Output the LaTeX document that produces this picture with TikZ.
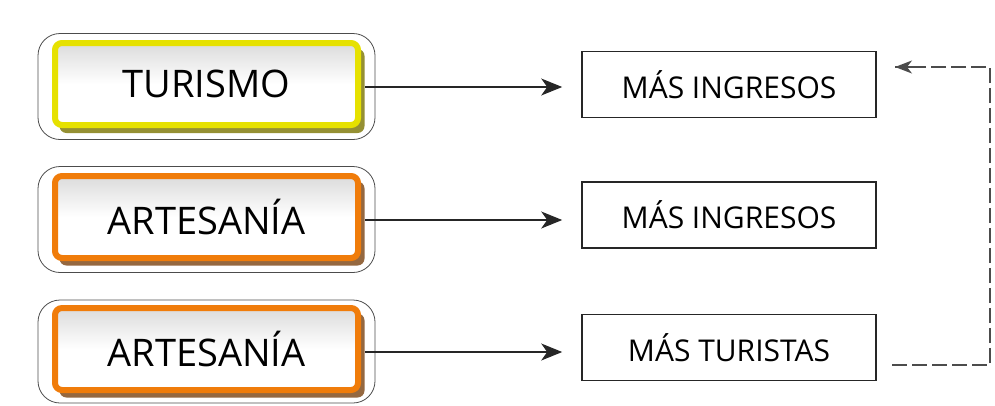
\documentclass[tikz,border=0pt]{standalone}
\usepackage{fontspec}
\setmainfont{Open Sans}
\usetikzlibrary{arrows.meta,calc}
\definecolor{ylw}{HTML}{E6E100}
\definecolor{ylwsh}{HTML}{7A7400}
\definecolor{org}{HTML}{F07C0A}
\definecolor{orgsh}{HTML}{7A4210}
\tikzset{
  outerbox/.style={draw=black!70, line width=0.8pt, rounded corners=22pt, minimum width=337pt, minimum height=106pt},
  innerbox/.style={draw=#1, line width=6pt, rounded corners=7pt, minimum width=303pt, minimum height=82pt,
     top color=black!14, bottom color=white, middle color=white, font=\fontsize{38}{40}\selectfont},
  shadowbox/.style={fill=#1, rounded corners=7pt, minimum width=305pt, minimum height=84pt, opacity=0.8},
  resbox/.style={draw=black!85, line width=1.6pt, fill=white, minimum width=294pt, minimum height=66pt, font=\fontsize{30}{32}\selectfont},
  arr/.style={draw=black!85, line width=1.1pt, -{Stealth[length=21pt,width=17pt,inset=6pt]}, shorten >=19pt},
  dashline/.style={draw=black!70, line width=1.6pt, dash pattern=on 15pt off 5pt}
}
\begin{document}
\begin{tikzpicture}[x=1pt,y=-1pt]
\useasboundingbox (0,0) rectangle (995,405);
% row 1
\node[outerbox] (o1) at (206.5,86.5) {};
\node[shadowbox=ylwsh] (s1) at (212,91) {};
\node[innerbox=ylw] (i1) at (206.5,84) {TURISMO};
% row 2
\node[outerbox] (o2) at (206.5,219.5) {};
\node[shadowbox=orgsh] (s2) at (212,223.5) {};
\node[innerbox=org] (i2) at (206.5,217) {ARTESANÍA};
% row 3
\node[outerbox, minimum height=103pt] (o3) at (206.5,351.5) {};
\node[shadowbox=orgsh] (s3) at (212,355.5) {};
\node[innerbox=org] (i3) at (206.5,349) {ARTESANÍA};
% right boxes
\node[resbox] (r1) at (729,84.5) {MÁS INGRESOS};
\node[resbox] (r2) at (729,215) {MÁS INGRESOS};
\node[resbox] (r3) at (729,347.5) {MÁS TURISTAS};
% arrows
\coordinate (a1) at (365,87);
\coordinate (a2) at (365,220);
\coordinate (a3) at (365,352);
\draw[arr] (a1) -- (a1 -| r1.west);
\draw[arr] (a2) -- (a2 -| r2.west);
\draw[arr] (a3) -- (a3 -| r3.west);
% dashed feedback
\coordinate (ds) at (892,365);
\coordinate (dc1) at (990,365);
\coordinate (dc2) at (990,67);
\coordinate (de) at (895,67);
\draw[dashline] (ds) -- (dc1) -- (dc2) -- (de);
\draw[black!70, line width=1.6pt, -{Stealth[length=17pt,width=13pt,inset=5pt]}] (912,67) -- (de);
\end{tikzpicture}
\end{document}
